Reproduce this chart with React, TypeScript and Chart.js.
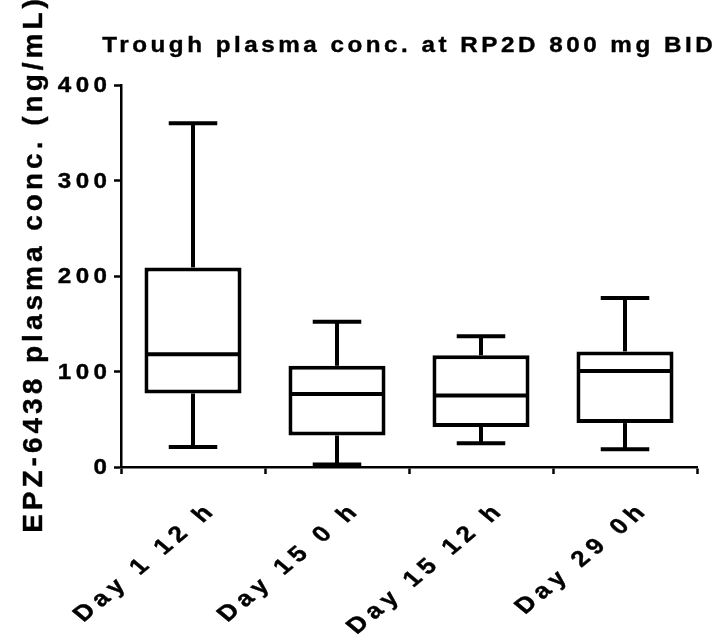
import React, { useEffect, useRef } from "react";
import { Chart, registerables } from "chart.js";

Chart.register(...registerables);

// Trough concentration summary per sampling time point
const categories = ["Day 1 12 h", "Day 15 0 h", "Day 15 12 h", "Day 29 0h"];
const whiskerLow = [21, 2.5, 25, 18.5];
const quartile1 = [77, 33, 42, 46];
const medians = [118, 76.5, 75, 100.5];
const quartile3 = [209, 106, 117, 121];
const whiskerHigh = [360, 152, 137, 177];
const yTickValues = [0, 100, 200, 300, 400];

const chartTitle = "Trough plasma conc. at RP2D 800 mg BID";
const yAxisTitle = "EPZ-6438 plasma conc. (ng/mL)";

const FONT = '"Liberation Sans", Arial, Helvetica, sans-serif';
const WIDE = 1.1; // horizontal widening of the upright lettering
const WIDE_X = 1.2; // widening of the slanted category labels
const LINE = 4;
const INK = 0.4; // extra stroke weight on the lettering

// Median lines, whiskers and caps on top of the quartile boxes
const whiskerPlugin = {
  id: "boxWhiskers",
  afterDatasetsDraw(chart: any) {
    const { ctx } = chart;
    const x = chart.scales.x;
    const y = chart.scales.y;
    const meta = chart.getDatasetMeta(0);
    ctx.save();
    ctx.strokeStyle = "#000";
    ctx.lineWidth = LINE;
    ctx.lineCap = "butt";
    const seg = (x1: number, y1: number, x2: number, y2: number) => {
      ctx.beginPath();
      ctx.moveTo(x1, y1);
      ctx.lineTo(x2, y2);
      ctx.stroke();
    };
    categories.forEach((_, i) => {
      const cx = x.getPixelForValue(i);
      const w = meta.data[i].width;
      const half = w / 2;
      const cap = w / 4;
      const yLo = y.getPixelForValue(whiskerLow[i]);
      const yQ1 = y.getPixelForValue(quartile1[i]);
      const yMed = y.getPixelForValue(medians[i]);
      const yQ3 = y.getPixelForValue(quartile3[i]);
      const yHi = y.getPixelForValue(whiskerHigh[i]);
      seg(cx, yQ3, cx, yHi);
      seg(cx, yQ1, cx, yLo);
      seg(cx - cap, yHi, cx + cap, yHi);
      seg(cx - cap, yLo, cx + cap, yLo);
      seg(cx - half + LINE / 2, yMed, cx + half - LINE / 2, yMed);
    });
    ctx.restore();
  },
};

const inkText = (ctx: any, text: string, x: number, y: number) => {
  ctx.fillText(text, x, y);
  ctx.lineWidth = INK;
  ctx.lineJoin = "round";
  ctx.strokeText(text, x, y);
};

// Tick labels, chart title and y-axis title in wide, letter-spaced bold type
const labelsPlugin = {
  id: "wideLabels",
  afterDraw(chart: any) {
    const { ctx, chartArea } = chart;
    const x = chart.scales.x;
    const y = chart.scales.y;

    const start = (size: number, sp: number, align: string, baseline: string) => {
      ctx.save();
      ctx.fillStyle = "#000";
      ctx.strokeStyle = "#000";
      ctx.font = `bold ${size}px ${FONT}`;
      ctx.letterSpacing = `${sp}px`;
      ctx.textAlign = align;
      ctx.textBaseline = baseline;
    };

    // y tick labels
    const ySp = 4;
    yTickValues.forEach((v) => {
      start(22, ySp, "right", "middle");
      ctx.translate(107, y.getPixelForValue(v) + 1);
      ctx.scale(WIDE, 1);
      inkText(ctx, String(v), ySp, 0);
      ctx.restore();
    });

    // x tick labels, rotated
    const xSp = 5;
    categories.forEach((label, i) => {
      start(22, xSp, "right", "alphabetic");
      ctx.translate(x.getPixelForValue(i) + 21, chartArea.bottom + 47);
      ctx.scale(WIDE_X, 1);
      ctx.rotate(-Math.PI / 4);
      inkText(ctx, label, xSp, 0);
      ctx.restore();
    });

    // chart title
    const tSp = 3.2;
    start(22, tSp, "center", "alphabetic");
    ctx.translate(407.5, 52);
    ctx.scale(WIDE, 1);
    inkText(ctx, chartTitle, tSp / 2, 0);
    ctx.restore();

    // y-axis title
    const aSp = 4;
    start(28, aSp, "center", "alphabetic");
    ctx.translate(42, 266);
    ctx.rotate(-Math.PI / 2);
    inkText(ctx, yAxisTitle, aSp / 2, 0);
    ctx.restore();
  },
};

export default function App() {
  const canvasRef = useRef<HTMLCanvasElement | null>(null);

  useEffect(() => {
    const canvas = canvasRef.current;
    if (!canvas) return;
    const chart = new Chart(canvas, {
      type: "bar",
      data: {
        labels: categories,
        datasets: [
          {
            label: "IQR",
            data: categories.map((_, i) => [quartile1[i], quartile3[i]]) as any,
            backgroundColor: "#ffffff",
            borderColor: "#000000",
            borderWidth: LINE,
            borderSkipped: false,
            barPercentage: 0.674,
            categoryPercentage: 1,
          },
        ],
      },
      options: {
        animation: false,
        responsive: false,
        devicePixelRatio: 1,
        events: [],
        layout: { padding: { top: 85, right: 27, left: 0, bottom: 0 } },
        plugins: {
          legend: { display: false },
          tooltip: { enabled: false },
          title: { display: false },
        },
        scales: {
          x: {
            type: "category",
            offset: true,
            grid: {
              drawOnChartArea: false,
              drawTicks: true,
              tickLength: 7,
              tickWidth: 2.5,
              tickColor: "#000",
            },
            border: { display: true, color: "#000", width: 2.5 },
            ticks: { display: false, autoSkip: false },
            afterFit(scale: any) {
              scale.height = 176;
            },
          },
          y: {
            min: 0,
            max: 400,
            afterBuildTicks(scale: any) {
              scale.ticks = yTickValues.map((v) => ({ value: v }));
            },
            grid: {
              drawOnChartArea: false,
              drawTicks: true,
              tickLength: 7,
              tickWidth: 2.5,
              tickColor: "#000",
            },
            border: { display: true, color: "#000", width: 2.5 },
            ticks: { display: false },
            afterFit(scale: any) {
              scale.width = 121;
            },
          },
        },
      },
      plugins: [whiskerPlugin, labelsPlugin],
    });
    return () => chart.destroy();
  }, []);

  return (
    <div style={{ position: "absolute", left: 0, top: 0, width: 724, height: 643, background: "#fff" }}>
      <canvas ref={canvasRef} width={724} height={643} style={{ display: "block", width: 724, height: 643 }} />
    </div>
  );
}
